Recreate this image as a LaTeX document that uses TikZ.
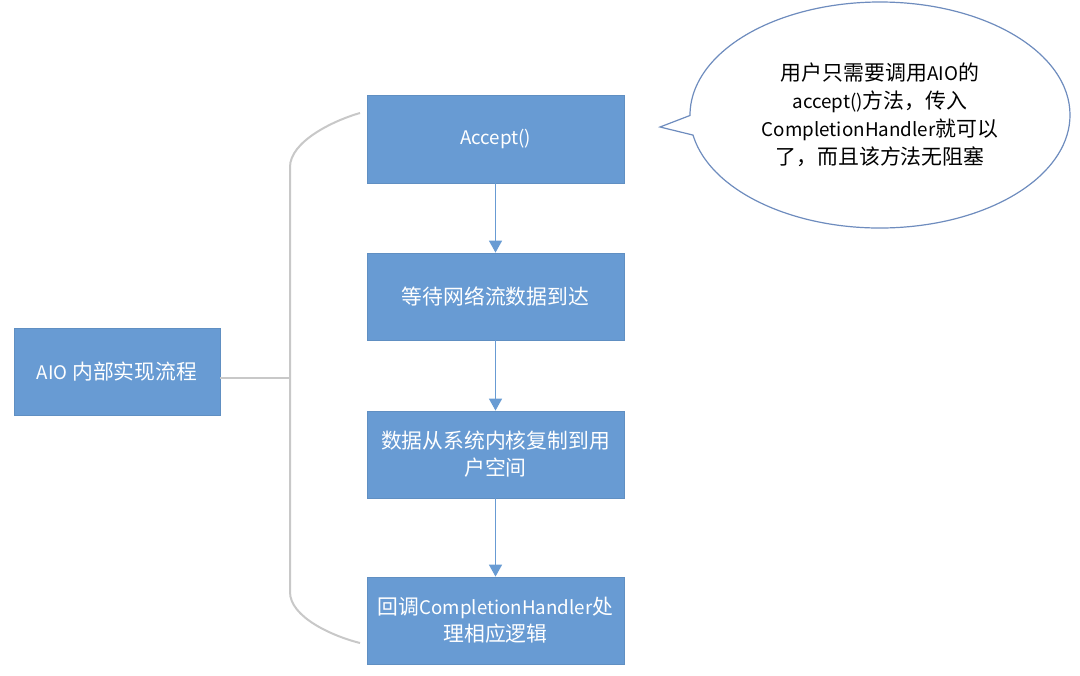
\documentclass[tikz,border=0pt]{standalone}
\usepackage{fontspec}
\setmainfont{Noto Sans CJK SC}
\newfontfamily\latn[Scale=0.9]{Noto Sans CJK SC}
\usetikzlibrary{arrows.meta,shapes.callouts}
\definecolor{boxblue}{RGB}{104,155,211}
\definecolor{linegray}{RGB}{200,200,200}
\definecolor{bubbleline}{RGB}{110,140,190}

\begin{document}
\begin{tikzpicture}[x=0.5pt,y=-0.5pt,
  stepbox/.style={draw=boxblue!92!black, line width=0.4pt, fill=boxblue, text=white,
    minimum width=128.5pt, minimum height=43.5pt, inner sep=0pt, align=center,
    font=\fontsize{10.4pt}{13.5pt}\selectfont},
  flow/.style={-{Triangle[length=6pt,width=6.5pt]}, draw=boxblue, line width=0.75pt},
  brace/.style={draw=linegray, line width=1pt}]
\useasboundingbox (0,0) rectangle (1080,675);

\node[stepbox, minimum width=103pt] (aio) at (117,371.5) {{\latn AIO} 内部实现流程};

\node[stepbox, minimum height=44pt] (accept) at (495.5,139) {\latn Accept()};
\node[stepbox] (wait) at (495.5,296.5) {等待网络流数据到达};
\node[stepbox] (copy) at (495.5,454.5) {数据从系统内核复制到用\\户空间};
\node[stepbox] (handler) at (495.5,620.5) {回调{\latn CompletionHandler}处\\理相应逻辑};

\node[ellipse callout, draw=bubbleline, line width=0.6pt, fill=white,
  minimum width=190pt, minimum height=113pt, inner sep=0pt,
  callout absolute pointer={(660,127)}, callout pointer arc=10,
  align=center, font=\fontsize{10.45pt}{14pt}\selectfont] (note) at (880,115)
  {用户只需要调用{\latn AIO}的\\{\latn accept()}方法，传入\\{\latn CompletionHandler}就可以\\了，而且该方法无阻塞};

\coordinate (btop) at (360,113);
\coordinate (bbot) at (360,643);
\coordinate (bmid) at (290,378);

\draw[brace] (btop) .. controls (332,121) and (290,142) .. (290,167)
  -- (290,592) .. controls (290,617) and (332,636) .. (bbot);
\draw[brace] (aio.east |- bmid) -- (bmid);

\draw[flow] (accept) -- (wait);
\draw[flow] (wait) -- (copy);
\draw[flow] (copy) -- (handler);
\end{tikzpicture}
\end{document}
